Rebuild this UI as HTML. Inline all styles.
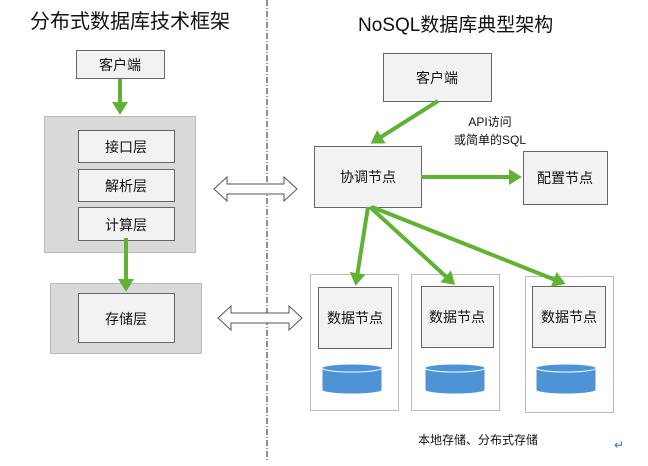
<!DOCTYPE html>
<html><head><meta charset="utf-8"><style>
body{margin:0;background:#fff}
text{font-family:"Liberation Sans","Noto Sans CJK SC",sans-serif;fill:#111}
</style></head><body>
<svg width="648" height="461" viewBox="0 0 648 461" xmlns="http://www.w3.org/2000/svg">
<defs>
<marker id="ah" markerWidth="4" markerHeight="4" refX="2.5" refY="2" orient="auto" markerUnits="strokeWidth">
<path d="M0,0 L3.2,2 L0,4 z" fill="#5fb233"/></marker>
</defs>
<text x="30" y="28" font-size="20">分布式数据库技术框架</text>
<text x="358" y="31" font-size="19">NoSQL数据库典型架构</text>
<line x1="267" y1="0" x2="267" y2="461" stroke="#222" stroke-width="1" stroke-dasharray="6,2,1,2"/>
<g stroke="#666" stroke-width="1" fill="#f2f2f2">
<rect x="76.5" y="50.5" width="88" height="28"/>
<rect x="44.5" y="116.5" width="151" height="136" fill="#d9d9d9" stroke="#888" stroke-dasharray="1,1"/>
<rect x="78.5" y="130.5" width="96" height="32"/>
<rect x="78.5" y="169.5" width="96" height="32"/>
<rect x="78.5" y="207.5" width="96" height="33"/>
<rect x="50.5" y="283.5" width="151" height="70" fill="#d9d9d9" stroke="#888" stroke-dasharray="1,1"/>
<rect x="78.5" y="293.5" width="96" height="49"/>
<rect x="383.5" y="53.5" width="108" height="48"/>
<rect x="314.5" y="146.5" width="107" height="61"/>
<rect x="523.5" y="151.5" width="84" height="53"/>
<g fill="none" stroke="#777" stroke-dasharray="1,1">
<rect x="310.5" y="274.5" width="88" height="136"/>
<rect x="411.5" y="274.5" width="88" height="136"/>
<rect x="525.5" y="276.5" width="88" height="136"/>
</g>
<rect x="318.5" y="287.5" width="73" height="61"/>
<rect x="421.5" y="286.5" width="72" height="61"/>
<rect x="532.5" y="286.5" width="73" height="61"/>
</g>
<g font-size="14" text-anchor="middle">
<text x="120" y="70">客户端</text>
<text x="126" y="152">接口层</text>
<text x="126" y="191">解析层</text>
<text x="126" y="230">计算层</text>
<text x="126" y="324">存储层</text>
<text x="437" y="83">客户端</text>
<text x="368" y="182">协调节点</text>
<text x="565" y="183">配置节点</text>
<text x="355" y="323">数据节点</text>
<text x="457" y="322">数据节点</text>
<text x="569" y="322">数据节点</text>
</g>
<g font-size="12" text-anchor="middle">
<text x="490" y="126">API访问</text>
<text x="490" y="144">或简单的SQL</text>
<text x="478" y="444">本地存储、分布式存储</text>
</g>
<text x="614" y="449" font-size="12" style="fill:#2a6fd0">↵</text>
<g fill="#4e93d6" stroke="#fff" stroke-width="1">
<g id="cyl"><path d="M322,368 v22 a30,4 0 0 0 60,0 v-22 z"/><ellipse cx="352" cy="368" rx="30" ry="4"/></g>
<use href="#cyl" x="103"/><use href="#cyl" x="214"/>
</g>
<g stroke="#5fb233" stroke-width="4" fill="none" marker-end="url(#ah)">
<line x1="120" y1="79" x2="120" y2="112"/>
<line x1="126" y1="238" x2="126" y2="289"/>
<line x1="438" y1="101" x2="373" y2="142"/>
<line x1="421" y1="177" x2="519" y2="177"/>
<line x1="368" y1="207" x2="356" y2="283"/>
<line x1="370" y1="207" x2="453" y2="283"/>
<line x1="372" y1="207" x2="563" y2="283"/>
</g>
<g fill="#fff" stroke="#555" stroke-width="1">
<path d="M214,189 l13,-12 v7 h57 v-7 l13,12 l-13,12 v-7 h-57 v7 z"/>
<path d="M218,318 l13,-12 v7 h58 v-7 l13,12 l-13,12 v-7 h-58 v7 z"/>
</g>
</svg>
</body></html>
